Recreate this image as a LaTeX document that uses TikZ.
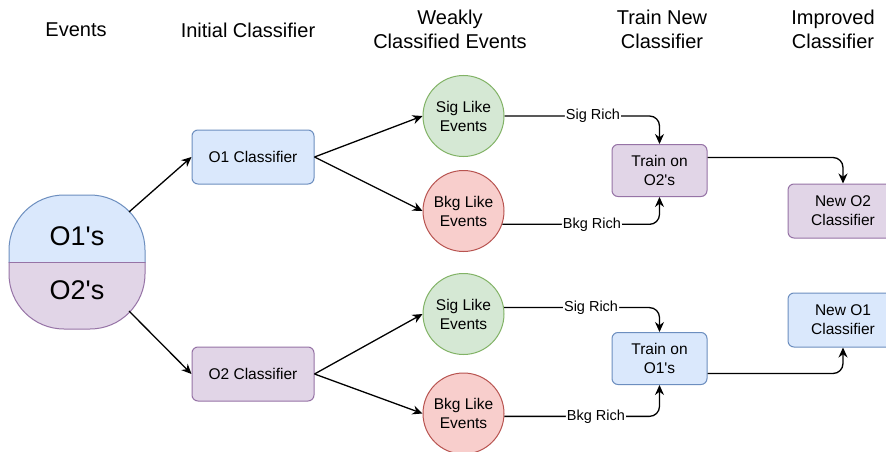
\documentclass[tikz,border=0pt]{standalone}
\usepackage{fontspec}
\setmainfont{Liberation Sans}
\usetikzlibrary{arrows.meta,calc}
\definecolor{bfill}{HTML}{DAE8FC}
\definecolor{bdraw}{HTML}{6C8EBF}
\definecolor{pfill}{HTML}{E1D5E7}
\definecolor{pdraw}{HTML}{9673A6}
\definecolor{gfill}{HTML}{D5E8D4}
\definecolor{gdraw}{HTML}{82B366}
\definecolor{rfill}{HTML}{F8CECC}
\definecolor{rdraw}{HTML}{B85450}
\newcommand{\aps}{\textquotesingle}
\begin{document}
\begin{tikzpicture}[x=1pt,y=-1pt,
  box/.style={rounded corners=6pt, draw, line width=1pt, align=center,
    font=\fontsize{15.5}{19}\selectfont, inner sep=0pt},
  bluebox/.style={box, fill=bfill, draw=bdraw},
  purplebox/.style={box, fill=pfill, draw=pdraw},
  circ/.style={circle, minimum size=81pt, line width=1pt, align=center,
    font=\fontsize{15.5}{19}\selectfont, inner sep=0pt},
  sigc/.style={circ, fill=gfill, draw=gdraw},
  bkgc/.style={circ, fill=rfill, draw=rdraw},
  arr/.style={line width=1.3pt, -{Stealth[length=10pt,width=9pt]}},
  rarr/.style={arr, rounded corners=10pt},
  lbl/.style={fill=white, inner sep=1pt, font=\fontsize{14.5}{17}\selectfont},
  hdr/.style={align=center, font=\fontsize{20}{24}\selectfont}]
\useasboundingbox (0,0) rectangle (886,452);
\fill[white] (0,0) rectangle (886,452);

% headers
\node[hdr] (h1) at (76,30) {Events};
\node[hdr] (h2) at (248,30) {Initial Classifier};
\node[hdr] (h3) at (450,29) {Weakly\\Classified Events};
\node[hdr] (h4) at (662,29) {Train New\\Classifier};
\node[hdr] (h5) at (833,29) {Improved\\Classifier};

% events blob
\begin{scope}
  \clip (0,150) rectangle (160,262);
  \filldraw[fill=bfill, draw=bdraw, line width=1pt, rounded corners=55pt] (9,195) rectangle (145,329);
\end{scope}
\begin{scope}
  \clip (0,262) rectangle (160,360);
  \filldraw[fill=pfill, draw=pdraw, line width=1pt, rounded corners=55pt] (9,195) rectangle (145,329);
\end{scope}
\draw[pdraw, line width=1pt] (9,262) -- (145,262);
\node[font=\fontsize{27}{30}\selectfont] (o1s) at (77,236) {O1\aps s};
\node[font=\fontsize{27}{30}\selectfont] (o2s) at (77,290) {O2\aps s};
\node[minimum width=136pt, minimum height=134pt, inner sep=0pt] (ev) at (77,262) {};
\coordinate (evA) at (129,212);
\coordinate (evB) at (129,311);

% classifiers
\node[bluebox, minimum width=122pt, minimum height=54pt] (c1) at (253,157) {O1 Classifier};
\node[purplebox, minimum width=122pt, minimum height=54pt] (c2) at (253,374) {O2 Classifier};

% circles
\node[sigc] (s1) at (463.5,116) {Sig Like\\Events};
\node[bkgc] (b1) at (463.5,211) {Bkg Like\\Events};
\node[sigc] (s2) at (463.5,314) {Sig Like\\Events};
\node[bkgc] (b2) at (463.5,413.5) {Bkg Like\\Events};

% train boxes
\node[purplebox, minimum width=95pt, minimum height=52pt] (t2) at (659.5,170.5) {Train on\\O2\aps s};
\node[bluebox, minimum width=95pt, minimum height=52pt] (t1) at (659.5,358.5) {Train on\\O1\aps s};

% new classifiers
\node[purplebox, minimum width=110pt, minimum height=54pt] (n2) at (843,211) {New O2\\Classifier};
\node[bluebox, minimum width=110pt, minimum height=54pt] (n1) at (843,320) {New O1\\Classifier};

% connectors
\draw[arr] (evA) -- (c1.west);
\draw[arr] (evB) -- (c2.west);
\draw[arr] (c1.east) -- (s1.west);
\draw[arr] (c1.east) -- (b1.west);
\draw[arr] (c2.east) -- (s2.west);
\draw[arr] (c2.east) -- (b2.west);

\draw[rarr] (s1.east) -- node[lbl, pos=0.57] {Sig Rich} (s1.east -| t2.north) -- (t2.north);
\draw[rarr] (b1.-19) -- node[lbl, pos=0.57] {Bkg Rich} (b1.-19 -| t2.south) -- (t2.south);
\draw[rarr] (s2.9) -- node[lbl, pos=0.56] {Sig Rich} (s2.9 -| t1.north) -- (t1.north);
\draw[rarr] (b2.-4) -- node[lbl, pos=0.59] {Bkg Rich} (b2.-4 -| t1.south) -- (t1.south);

\coordinate (t2o) at ($(t2.east)+(0,-13)$);
\coordinate (t1o) at ($(t1.east)+(0,15)$);
\draw[rarr] (t2o) -- (t2o -| n2.north) -- (n2.north);
\draw[rarr] (t1o) -- (t1o -| n1.south) -- (n1.south);
\end{tikzpicture}
\end{document}
